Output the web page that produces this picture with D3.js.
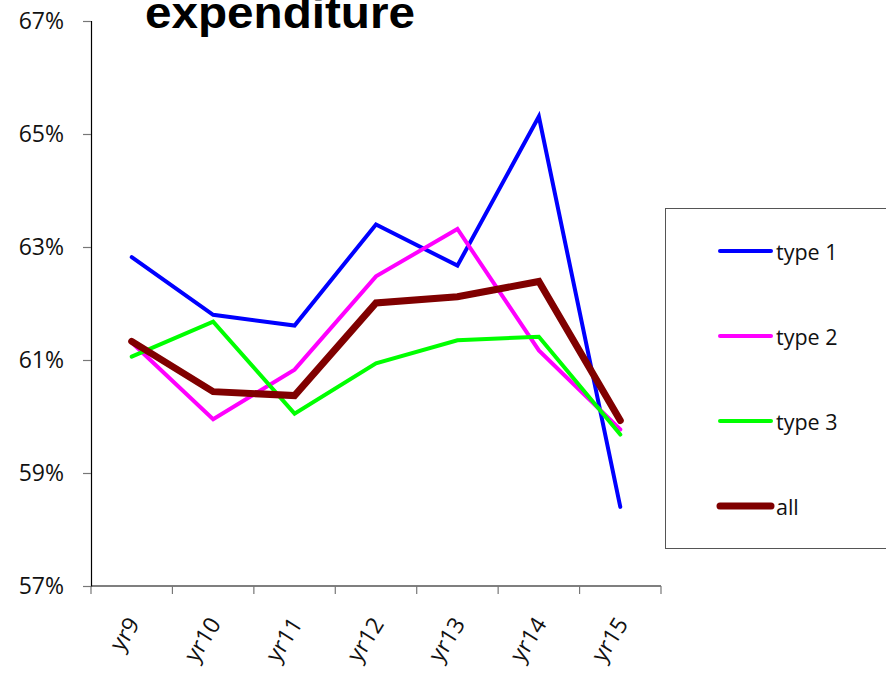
<!DOCTYPE html>
<html>
<head>
<meta charset="utf-8">
<script src="https://cdn.jsdelivr.net/npm/d3@7"></script>
<style>
  html, body { margin: 0; padding: 0; background: #fff; }
  svg { display: block; }
</style>
</head>
<body>
<svg id="chart" width="886" height="673"></svg>
<script>
// Share of expenditure by type, yr9 to yr15
const years = ["yr9", "yr10", "yr11", "yr12", "yr13", "yr14", "yr15"];
const type1 = [62.82, 61.80, 61.61, 63.40, 62.67, 65.31, 58.40];
const type2 = [61.31, 59.95, 60.83, 62.48, 63.32, 61.17, 59.77];
const type3 = [61.06, 61.68, 60.05, 60.94, 61.35, 61.41, 59.68];
const all   = [61.33, 60.44, 60.37, 62.01, 62.12, 62.39, 59.93];
const yTicks = [57, 59, 61, 63, 65, 67];

const series = [
  { name: "type 1", values: type1, color: "#0000ff", width: 4 },
  { name: "type 2", values: type2, color: "#ff00ff", width: 4 },
  { name: "type 3", values: type3, color: "#00ff00", width: 4 },
  { name: "all",    values: all,   color: "#800000", width: 7 }
];

const svg = d3.select("#chart");
const plotLeft = 91, plotRight = 661, plotTop = 21, plotBottom = 586;
const labelFont = "'Open Sans', 'Noto Sans', sans-serif";

const x = d3.scaleBand().domain(years).range([plotLeft, plotRight]).paddingInner(0).paddingOuter(0);
const y = d3.scaleLinear().domain([57, 67]).range([plotBottom, plotTop]);
const cx = d => x(d) + x.bandwidth() / 2;

// Y axis
const yAxis = d3.axisLeft(y).tickValues(yTicks).tickSize(8).tickPadding(6)
  .tickFormat(d => d + "%");
const yG = svg.append("g").attr("transform", `translate(${plotLeft},0)`).call(yAxis);
yG.select(".domain").attr("stroke", "#000").attr("stroke-width", 1.2);
yG.selectAll(".tick line").attr("stroke", "#777").attr("stroke-width", 1.2);
yG.selectAll(".tick text").attr("font-family", labelFont).attr("font-size", 23)
  .attr("fill", "#111").attr("x", -27);

// X axis: ticks at category boundaries
const boundaries = years.map(d => x(d)).concat([x(years[years.length - 1]) + x.bandwidth()]);
const xG = svg.append("g");
xG.append("line").attr("x1", plotLeft).attr("x2", plotRight).attr("y1", plotBottom).attr("y2", plotBottom)
  .attr("stroke", "#000").attr("stroke-width", 1.2);
xG.selectAll("line.tk").data(boundaries).join("line").attr("class", "tk")
  .attr("x1", d => d).attr("x2", d => d).attr("y1", plotBottom).attr("y2", plotBottom + 8)
  .attr("stroke", "#777").attr("stroke-width", 1.2);
xG.selectAll("text").data(years).join("text")
  .attr("transform", d => `translate(${cx(d) + 1},${plotBottom + 33}) rotate(-58)`)
  .attr("text-anchor", "end")
  .attr("dominant-baseline", "central")
  .attr("font-family", labelFont).attr("font-size", 23).attr("fill", "#111")
  .text(d => d);

// Lines
const line = d3.line().x((v, i) => cx(years[i])).y(v => y(v));
svg.append("g").selectAll("path").data(series).join("path")
  .attr("d", s => line(s.values))
  .attr("fill", "none")
  .attr("stroke", s => s.color)
  .attr("stroke-width", s => s.width)
  .attr("stroke-linejoin", "miter")
  .attr("stroke-linecap", "round");

// Title (top clipped by the page edge)
svg.append("text")
  .attr("x", 145).attr("y", 28)
  .attr("font-family", "'Liberation Sans', Arial, sans-serif")
  .attr("font-weight", "bold").attr("font-size", 44)
  .attr("textLength", 270).attr("lengthAdjust", "spacingAndGlyphs")
  .attr("fill", "#000")
  .text("expenditure");

// Legend
const lg = svg.append("g");
lg.append("rect").attr("x", 665.5).attr("y", 208.5).attr("width", 240).attr("height", 340)
  .attr("fill", "#fff").attr("stroke", "#555").attr("stroke-width", 1);
const rowY = d3.scalePoint().domain(series.map(s => s.name)).range([251, 506]);
const rows = lg.selectAll("g.row").data(series).join("g").attr("class", "row")
  .attr("transform", s => `translate(0,${rowY(s.name)})`);
rows.append("line").attr("x1", 720).attr("x2", 771).attr("y1", 0).attr("y2", 0)
  .attr("stroke", s => s.color).attr("stroke-width", s => s.width)
  .attr("stroke-linecap", "round");
rows.append("text").attr("x", 776).attr("y", 0).attr("dominant-baseline", "central")
  .attr("font-family", labelFont).attr("font-size", 21.5).attr("fill", "#111")
  .text(s => s.name);
</script>
</body>
</html>
